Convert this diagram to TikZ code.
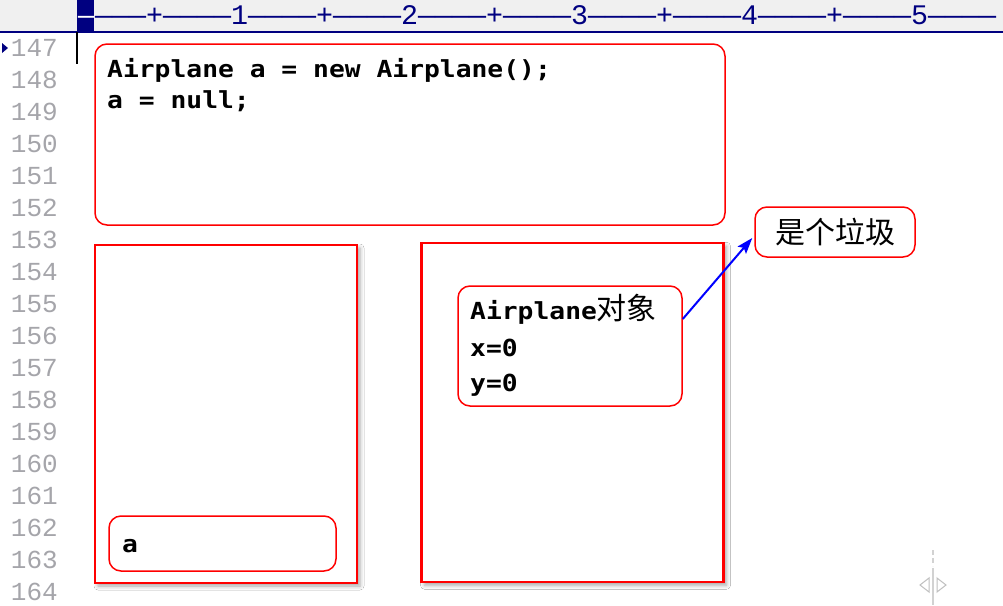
\documentclass[tikz,border=0pt]{standalone}
\usepackage{fontspec}
\usepackage{tikz}
\usetikzlibrary{arrows.meta,shadows.blur}
\newfontfamily\codefont{DejaVu Sans Mono}[FakeStretch=1.12]
\newfontfamily\cjkfont{Noto Sans CJK SC}
\newfontfamily\gutterfont{Liberation Mono}
\newcommand\hanzi[1]{{\cjkfont\mdseries\fontsize{30}{34}\selectfont #1}}
\definecolor{navyblue}{RGB}{0,0,128}
\definecolor{rulerbg}{RGB}{240,240,240}
\definecolor{linenogray}{RGB}{165,165,170}
\definecolor{boxred}{RGB}{255,0,0}
\tikzset{
  redbox/.style={draw=boxred, line width=1.5pt, rounded corners=12pt, fill=white, inner sep=0pt},
  memarea/.style={draw=boxred, line width=2.2pt, fill=white,
    blur shadow={shadow xshift=3pt, shadow yshift=-3pt, shadow blur radius=4pt, shadow opacity=35}},
  codetxt/.style={font=\codefont\bfseries\fontsize{23.5}{28}\selectfont, inner sep=0pt, anchor=base west},
  lineno/.style={font=\gutterfont\fontsize{26}{30}\selectfont, text=linenogray, inner sep=0pt, anchor=east},
  rulertxt/.style={font=\gutterfont\fontsize{28.33}{32}\selectfont, text=navyblue, inner sep=0pt, anchor=base west},
  pointer/.style={draw=blue, line width=2pt, -{Stealth[length=16pt,width=11pt,inset=3pt]}},
}

\begin{document}
\begin{tikzpicture}[x=1pt,y=-1pt]
\useasboundingbox (0,0) rectangle (1003,605);
\clip (0,0) rectangle (1003,605);
\fill[white] (0,0) rectangle (1003,605);

% ruler
\fill[rulerbg] (0,0) rectangle (1003,32);
\fill[navyblue] (77,0) rectangle (94,32);
\draw[navyblue, line width=1.5pt] (0,32) -- (1003,32);
\node[rulertxt] (ruler) at (78,24) {{\color{white}—}———+————1————+————2————+————3————+————4————+————5————};

% gutter
\foreach \n [count=\i from 0] in {147,...,164}
  \node[lineno] (ln\n) at (58,48+32*\i) {\n};
\fill[navyblue] (2,43) -- (8,48) -- (2,53) -- cycle;
\draw[black, line width=2pt] (77,32) -- (77,64);

% code
\node[redbox, minimum width=630, minimum height=181] (code) at (410,134.5) {};
\node[codetxt] (line1) at (107,77) {Airplane a = new Airplane();};
\node[codetxt] (line2) at (107,108) {a = null;};

% stack and heap
\node[memarea, minimum width=262, minimum height=338] (stack) at (226,414) {};
\node[memarea, minimum width=302, minimum height=339] (heap) at (572.5,412.75) {};

\node[redbox, minimum width=227, minimum height=55] (refa) at (222.5,543.5) {};
\node[codetxt] (refname) at (122,552) {a};

\node[redbox, minimum width=224, minimum height=120] (obj) at (570,346) {};
\node[codetxt] (objname) at (470,319) {Airplane\hanzi{对象}};
\node[codetxt] (objx) at (470,356) {x=0};
\node[codetxt] (objy) at (470,391) {y=0};

\node[redbox, minimum width=160, minimum height=50] (garbage) at (835,232) {\hanzi{是个垃圾}};
\draw[pointer] ([yshift=27pt]obj.east) -- ([xshift=-2pt,yshift=-6pt]garbage.west);

% split handle
\draw[gray!35, line width=2pt, dash pattern=on 5pt off 3pt] (933,550) -- (933,566);
\draw[gray!35, line width=2pt] (933,568) -- (933,605);
\draw[gray!50, line width=1pt] (929,578) -- (920,585) -- (929,592) -- cycle;
\draw[gray!50, line width=1pt] (937,578) -- (946,585) -- (937,592) -- cycle;
\end{tikzpicture}
\end{document}
